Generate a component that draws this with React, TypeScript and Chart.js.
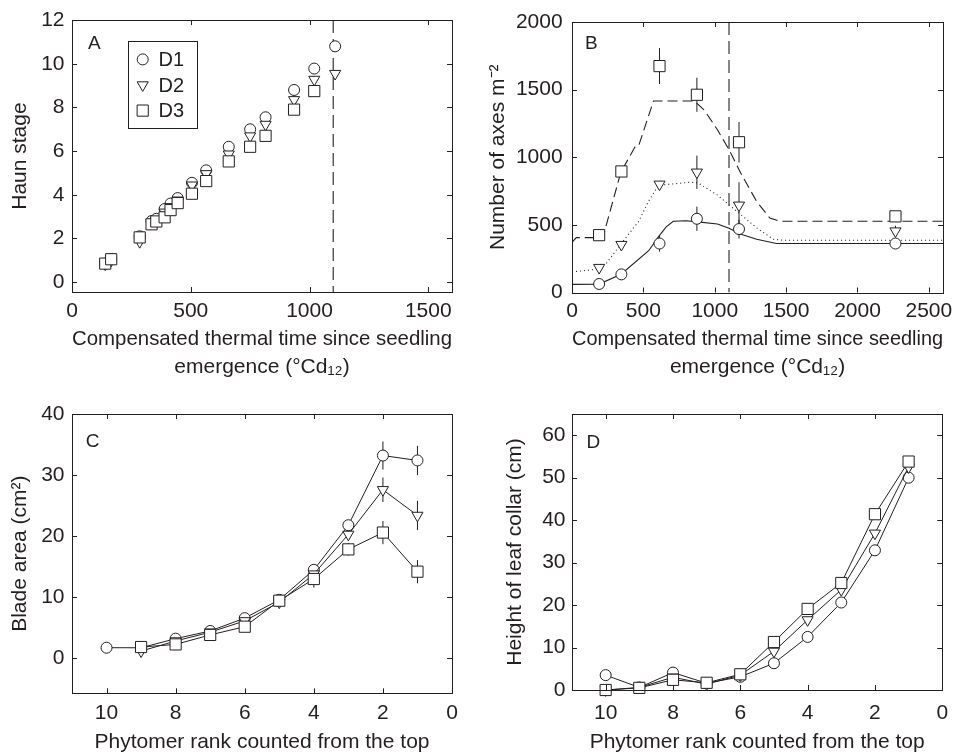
import React, { useEffect, useRef } from 'react';
import { Chart, registerables } from 'chart.js';

Chart.register(...registerables);

const FONT = "'Liberation Sans', Arial, Helvetica, sans-serif";
const INK = '#231f20';

// ---------- Panel A : Haun stage ----------
const haunTime = [140, 165, 285, 335, 355, 390, 415, 445, 505, 565, 660, 750, 815, 935, 1020, 1108];
const haunD1 = [0.85, 1.05, 2.1, 2.8, 2.9, 3.35, 3.6, 3.85, 4.55, 5.12, 6.2, 7.0, 7.55, 8.8, 9.78, 10.8];
const haunD2 = [0.82, 1.0, 1.85, 2.72, 2.82, 3.2, 3.45, 3.75, 4.44, 4.96, 5.86, 6.69, 7.22, 8.35, 9.28, 9.55];
const haunD3 = [0.85, 1.05, 2.05, 2.65, 2.78, 2.97, 3.3, 3.62, 4.05, 4.63, 5.53, 6.2, 6.7, 7.9, 8.75, null];
const haunXTicks = [0, 500, 1000, 1500];
const haunYTicks = [0, 2, 4, 6, 8, 10, 12];
const flagLeafTime = 1100;

// ---------- Panel B : number of axes ----------
const axesTime = [190, 346, 613, 875, 1170, 2266];
const axesD1 = [63, 134, 362, 545, 469, 362];
const axesD2 = [184, 354, 800, 889, 645, 454];
const axesD3 = [424, 895, 1674, 1462, 1111, 563];
const axesD1Err = [0, 0, 60, 90, 70, 0];
const axesD2Err = [0, 0, 0, 123, 170, 40];
const axesD3Err = [0, 0, 133, 126, 150, 25];
const modelD1Time = [0, 190, 344, 537, 608, 660, 709, 800, 880, 1019, 1100, 1179, 1294, 1432, 2600];
const modelD1 = [60, 62, 135, 309, 415, 485, 527, 530, 522, 507, 475, 432, 394, 362, 362];
const modelD2Time = [0, 147, 239, 342, 468, 534, 606, 720, 820, 881, 1019, 1156, 1294, 1409, 1480, 2600];
const modelD2 = [152, 169, 213, 358, 527, 671, 793, 804, 815, 812, 720, 599, 478, 394, 386, 386];
const modelD3Time = [0, 30, 216, 342, 445, 468, 571, 858, 927, 1019, 1099, 1179, 1294, 1386, 1454, 2600];
const modelD3 = [370, 406, 406, 889, 1083, 1088, 1416, 1416, 1348, 1203, 1058, 889, 672, 551, 527, 527];
const axesXTicks = [0, 500, 1000, 1500, 2000, 2500];
const axesYTicks = [0, 500, 1000, 1500, 2000];

// ---------- Panel C : blade area ----------
const phytomerRank = [10, 9, 8, 7, 6, 5, 4, 3, 2, 1];
const bladeD1 = [1.76, 1.75, 3.24, 4.5, 6.6, 9.6, 14.5, 21.8, 33.2, 32.4];
const bladeD2 = [null, 1.2, 2.86, 4.3, 6.15, 9.2, 13.8, 20.3, 27.6, 23.4];
const bladeD3 = [null, 1.87, 2.3, 3.85, 5.2, 9.45, 13.0, 17.85, 20.6, 14.2];
const bladeD1Err = [0, 0, 0.4, 0.4, 0.5, 0.6, 0.8, 0.8, 2.3, 2.4];
const bladeD2Err = [0, 0.3, 0.4, 0.4, 0.5, 0.8, 1.0, 1.0, 2.0, 2.4];
const bladeD3Err = [0, 0.3, 0.4, 0.4, 0.5, 0.6, 1.4, 1.0, 1.9, 1.9];
const rankTicks = [10, 8, 6, 4, 2, 0];
const bladeYTicks = [0, 10, 20, 30, 40];

// ---------- Panel D : collar height ----------
const collarD1 = [3.5, 0.6, 4.1, 1.6, 3.1, 6.3, 12.5, 20.6, 32.9, 50.0];
const collarD2 = [0, 0.6, 3.0, 1.4, 3.5, 9.1, 16.5, 23.6, 36.9, 52.5];
const collarD3 = [0, 0.5, 2.4, 1.7, 3.7, 11.3, 19.1, 25.2, 41.4, 53.8];
const collarYTicks = [0, 10, 20, 30, 40, 50, 60];

const seriesNames = ['D1', 'D2', 'D3'];

const zip = (xs: number[], ys: (number | null)[]) =>
  xs.map((x, i) => ({ x, y: ys[i] })).filter((p) => p.y !== null) as { x: number; y: number }[];

const MARKERS = [
  { pointStyle: 'circle', pointRadius: 5.5, pointRotation: 0 },
  { pointStyle: 'triangle', pointRadius: 6.4, pointRotation: 180 },
  { pointStyle: 'rect', pointRadius: 7.9, pointRotation: 0 },
];

function markerDataset(i: number, data: { x: number; y: number }[], showLine: boolean) {
  return {
    label: seriesNames[i],
    data,
    showLine,
    borderColor: INK,
    borderWidth: 1,
    pointBackgroundColor: '#fff',
    pointBorderColor: INK,
    pointBorderWidth: 1,
    ...MARKERS[i],
    clip: false,
    order: 3 - i,
  };
}

function curveDataset(label: string, data: { x: number; y: number }[], dash: number[]) {
  return {
    label,
    data,
    showLine: true,
    borderColor: INK,
    borderWidth: 1.1,
    borderDash: dash,
    pointRadius: 0,
    order: 5,
  };
}

function axis(o: {
  horizontal: boolean; min: number; max: number; ticks: number[]; title: string | string[];
  size: number; tickPad: number; titlePad: number; lineHeight?: number; reverse?: boolean;
}) {
  return {
    type: 'linear',
    position: o.horizontal ? 'bottom' : 'left',
    min: o.min,
    max: o.max,
    reverse: !!o.reverse,
    grid: { display: false, drawTicks: false },
    border: { display: false },
    afterBuildTicks: (s: any) => { s.ticks = o.ticks.map((v) => ({ value: v })); },
    afterFit: (s: any) => { if (o.horizontal) s.height = o.size; else s.width = o.size; },
    ticks: {
      padding: o.tickPad, color: INK, font: { family: FONT, size: 21 },
      callback: (v: any) => String(v), maxRotation: 0, minRotation: 0, autoSkip: false,
    },
    title: {
      display: true, text: o.title, color: INK,
      font: { family: FONT, size: 21, lineHeight: o.lineHeight ?? 1.2 },
      padding: o.horizontal ? { top: 0, bottom: o.titlePad } : { top: o.titlePad, bottom: 0 },
    },
  };
}

const boxPlugin = {
  id: 'boxTicks',
  afterDatasetsDraw(chart: any) {
    const { ctx, chartArea: a, scales } = chart;
    const xs = scales.x, ys = scales.y;
    const L = 5;
    ctx.save();
    ctx.strokeStyle = INK;
    ctx.lineWidth = 1;
    ctx.strokeRect(Math.round(a.left) + 0.5, Math.round(a.top) + 0.5, Math.round(a.right - a.left), Math.round(a.bottom - a.top));
    ctx.beginPath();
    xs.ticks.forEach((t: any) => {
      const px = Math.round(xs.getPixelForValue(t.value)) + 0.5;
      ctx.moveTo(px, a.bottom); ctx.lineTo(px, a.bottom - L);
      ctx.moveTo(px, a.top); ctx.lineTo(px, a.top + L);
    });
    ys.ticks.forEach((t: any) => {
      const py = Math.round(ys.getPixelForValue(t.value)) + 0.5;
      ctx.moveTo(a.left, py); ctx.lineTo(a.left + L, py);
      ctx.moveTo(a.right, py); ctx.lineTo(a.right - L, py);
    });
    ctx.stroke();
    ctx.restore();
  },
};

function letterPlugin(text: string, dx: number, dy: number) {
  return {
    id: 'panelLetter',
    afterDraw(chart: any) {
      const { ctx, chartArea: a } = chart;
      ctx.save();
      ctx.fillStyle = INK;
      ctx.font = `19px ${FONT}`;
      ctx.textBaseline = 'alphabetic';
      ctx.textAlign = 'left';
      ctx.fillText(text, a.left + dx, a.top + dy);
      ctx.restore();
    },
  };
}

function errorPlugin(series: { x: number[]; y: (number | null)[]; e: number[] }[]) {
  return {
    id: 'errorBars',
    beforeDatasetsDraw(chart: any) {
      const { ctx, scales } = chart;
      const xs = scales.x, ys = scales.y;
      ctx.save();
      ctx.strokeStyle = INK;
      ctx.lineWidth = 1;
      ctx.beginPath();
      series.forEach((s) => s.x.forEach((xv, i) => {
        const yv = s.y[i];
        const e = s.e[i];
        if (yv === null || !e) return;
        const px = xs.getPixelForValue(xv);
        ctx.moveTo(px, ys.getPixelForValue(yv - e));
        ctx.lineTo(px, ys.getPixelForValue(yv + e));
      }));
      ctx.stroke();
      ctx.restore();
    },
  };
}

function drawMarker(ctx: CanvasRenderingContext2D, i: number, x: number, y: number) {
  const m = MARKERS[i];
  const r = m.pointRadius;
  ctx.beginPath();
  if (m.pointStyle === 'circle') {
    ctx.arc(x, y, r, 0, Math.PI * 2);
  } else if (m.pointStyle === 'triangle') {
    ctx.moveTo(x, y + r);
    ctx.lineTo(x - r * Math.sin(Math.PI / 3), y - r / 2);
    ctx.lineTo(x + r * Math.sin(Math.PI / 3), y - r / 2);
    ctx.closePath();
  } else {
    const s = Math.SQRT1_2 * r;
    ctx.rect(x - s, y - s, 2 * s, 2 * s);
  }
  ctx.fillStyle = '#fff';
  ctx.fill();
  ctx.stroke();
}

const legendPlugin = {
  id: 'legendBoxA',
  afterDraw(chart: any) {
    const { ctx, chartArea: a } = chart;
    const bx = a.left + 56.3, by = a.top + 21, bw = 69.4, bh = 86.7;
    ctx.save();
    ctx.strokeStyle = INK;
    ctx.lineWidth = 1;
    ctx.fillStyle = '#fff';
    ctx.fillRect(bx, by, bw, bh);
    ctx.strokeRect(Math.round(bx) + 0.5, Math.round(by) + 0.5, Math.round(bw), Math.round(bh));
    seriesNames.forEach((name, i) => {
      const my = by + 18.3 + i * 25.6;
      drawMarker(ctx, i, bx + 14.4, my);
      ctx.fillStyle = INK;
      ctx.font = `20px ${FONT}`;
      ctx.textBaseline = 'middle';
      ctx.textAlign = 'left';
      ctx.fillText(name, bx + 30.2, my + 1);
    });
    ctx.restore();
  },
};

const baseOptions = (padding: any, scales: any) => ({
  responsive: false,
  animation: false,
  devicePixelRatio: 1,
  events: [],
  layout: { padding },
  plugins: { legend: { display: false }, tooltip: { enabled: false } },
  scales,
});

const thermalTitle = ['Compensated thermal time since seedling', 'emergence (°Cd₁₂)'];

function buildA() {
  return {
    type: 'scatter',
    data: {
      datasets: [
        markerDataset(0, zip(haunTime, haunD1), false),
        markerDataset(1, zip(haunTime, haunD2), false),
        markerDataset(2, zip(haunTime, haunD3), false),
        { ...curveDataset('flag leaf', [{ x: flagLeafTime, y: 12 }, { x: flagLeafTime, y: -0.45 }], [13, 6]), borderColor: '#444', borderWidth: 1.3, order: 10 },
      ],
    },
    options: baseOptions({ left: 0, top: 15, right: 28, bottom: 0 }, {
      x: axis({ horizontal: true, min: 0, max: 1600, ticks: haunXTicks, title: thermalTitle, size: 93, tickPad: 7, titlePad: 3.5, lineHeight: 28 / 21 }),
      y: axis({ horizontal: false, min: -0.45, max: 12, ticks: haunYTicks, title: 'Haun stage', size: 72, tickPad: 7.5, titlePad: 7.7 }),
    }),
    plugins: [boxPlugin, letterPlugin('A', 16, 28.5), legendPlugin],
  };
}

function buildB() {
  return {
    type: 'scatter',
    data: {
      datasets: [
        markerDataset(0, zip(axesTime, axesD1), false),
        markerDataset(1, zip(axesTime, axesD2), false),
        markerDataset(2, zip(axesTime, axesD3), false),
        curveDataset('D1 model', zip(modelD1Time, modelD1), []),
        curveDataset('D2 model', zip(modelD2Time, modelD2), [1, 3]),
        curveDataset('D3 model', zip(modelD3Time, modelD3), [10, 5]),
        { ...curveDataset('flag leaf', [{ x: flagLeafTime, y: 2000 }, { x: flagLeafTime, y: 0 }], [13, 6]), borderColor: '#444', borderWidth: 1.3, order: 10 },
      ],
    },
    options: baseOptions({ left: 0, top: 16, right: 10, bottom: 0 }, {
      x: axis({ horizontal: true, min: 0, max: 2600, ticks: axesXTicks, title: thermalTitle, size: 92.5, tickPad: 6.4, titlePad: 3.5, lineHeight: 28 / 21 }),
      y: axis({ horizontal: false, min: 0, max: 2000, ticks: axesYTicks, title: 'Number of axes m⁻²', size: 92, tickPad: 9.4, titlePad: 5.7 }),
    }),
    plugins: [
      errorPlugin([
        { x: axesTime, y: axesD1, e: axesD1Err },
        { x: axesTime, y: axesD2, e: axesD2Err },
        { x: axesTime, y: axesD3, e: axesD3Err },
      ]),
      boxPlugin, letterPlugin('B', 13, 27.3),
    ],
  };
}

function buildC() {
  return {
    type: 'scatter',
    data: {
      datasets: [
        markerDataset(0, zip(phytomerRank, bladeD1), true),
        markerDataset(1, zip(phytomerRank, bladeD2), true),
        markerDataset(2, zip(phytomerRank, bladeD3), true),
      ],
    },
    options: baseOptions({ left: 0, top: 29, right: 28, bottom: 0 }, {
      x: axis({ horizontal: true, min: 0, max: 11, reverse: true, ticks: rankTicks, title: 'Phytomer rank counted from the top', size: 61.7, tickPad: 7.6, titlePad: 0.6 }),
      y: axis({ horizontal: false, min: -5.7, max: 40, ticks: bladeYTicks, title: 'Blade area (cm²)', size: 72, tickPad: 7.5, titlePad: 7.4 }),
    }),
    plugins: [
      errorPlugin([
        { x: phytomerRank, y: bladeD1, e: bladeD1Err },
        { x: phytomerRank, y: bladeD2, e: bladeD2Err },
        { x: phytomerRank, y: bladeD3, e: bladeD3Err },
      ]),
      boxPlugin, letterPlugin('C', 13.7, 32.7),
    ],
  };
}

function buildD() {
  return {
    type: 'scatter',
    data: {
      datasets: [
        markerDataset(0, zip(phytomerRank, collarD1), true),
        markerDataset(1, zip(phytomerRank, collarD2), true),
        markerDataset(2, zip(phytomerRank, collarD3), true),
      ],
    },
    options: baseOptions({ left: 0, top: 29, right: 9, bottom: 0 }, {
      x: axis({ horizontal: true, min: 0, max: 11, reverse: true, ticks: rankTicks, title: 'Phytomer rank counted from the top', size: 65, tickPad: 10.9, titlePad: 0.6 }),
      y: axis({ horizontal: false, min: 0, max: 65, ticks: collarYTicks, title: 'Height of leaf collar (cm)', size: 92, tickPad: 6.5, titlePad: 22.4 }),
    }),
    plugins: [boxPlugin, letterPlugin('D', 14.5, 34)],
  };
}

function ChartCanvas(props: { left: number; top: number; width: number; height: number; build: () => any }) {
  const ref = useRef<HTMLCanvasElement>(null);
  useEffect(() => {
    const chart = new Chart(ref.current as HTMLCanvasElement, props.build());
    return () => chart.destroy();
  }, []);
  return (
    <canvas
      ref={ref}
      width={props.width}
      height={props.height}
      style={{ position: 'absolute', left: props.left, top: props.top, width: props.width, height: props.height }}
    />
  );
}

export default function App() {
  Chart.defaults.font.family = FONT;
  Chart.defaults.color = INK;
  return (
    <div style={{ position: 'absolute', left: 0, top: 0, width: 959, height: 755, background: '#fff' }}>
      <ChartCanvas left={0} top={0} width={480} height={385} build={buildA} />
      <ChartCanvas left={480} top={0} width={479} height={385} build={buildB} />
      <ChartCanvas left={0} top={385} width={480} height={370} build={buildC} />
      <ChartCanvas left={480} top={385} width={479} height={370} build={buildD} />
    </div>
  );
}
